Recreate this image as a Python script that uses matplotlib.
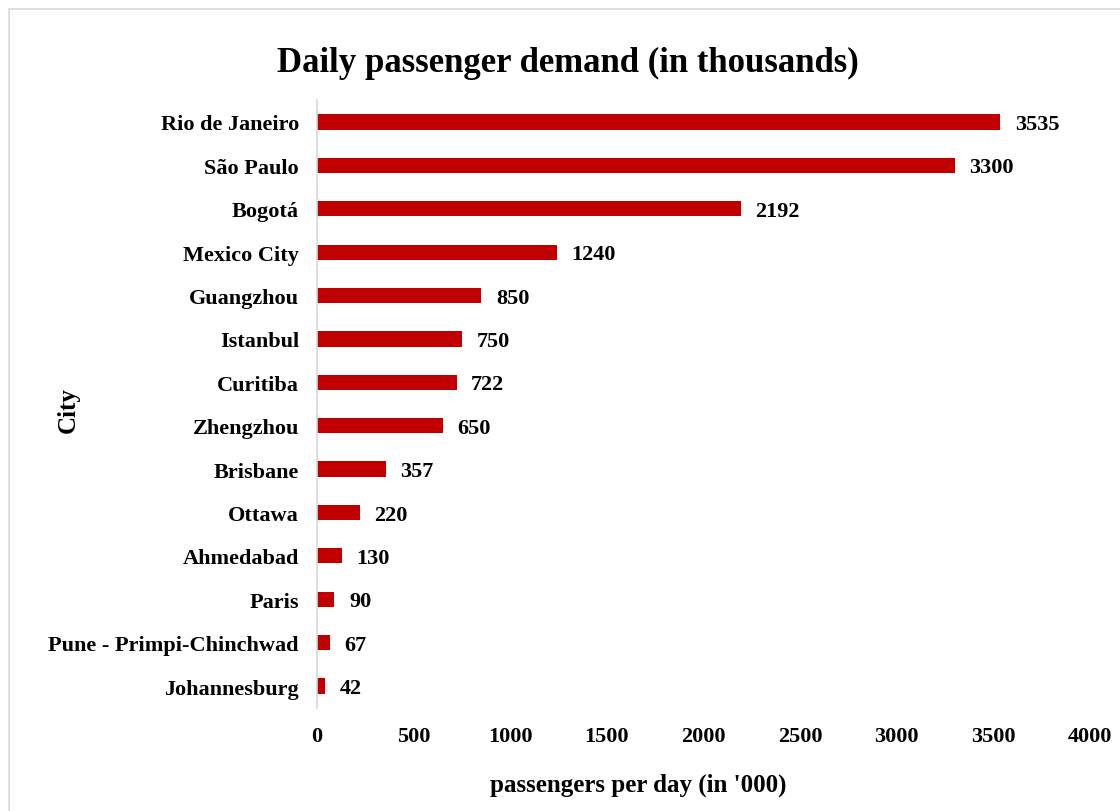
import matplotlib.pyplot as plt
from matplotlib.patches import Rectangle

cities = ['Rio de Janeiro', 'São Paulo', 'Bogotá', 'Mexico City', 'Guangzhou',
          'Istanbul', 'Curitiba', 'Zhengzhou', 'Brisbane', 'Ottawa',
          'Ahmedabad', 'Paris', 'Pune - Primpi-Chinchwad', 'Johannesburg']
demand = [3535, 3300, 2192, 1240, 850, 750, 722, 650, 357, 220, 130, 90, 67, 42]
xticks = [0, 500, 1000, 1500, 2000, 2500, 3000, 3500, 4000]

plt.rcParams['font.family'] = ['Liberation Serif', 'DejaVu Serif']
plt.rcParams['font.weight'] = 'bold'

W, H = 1120, 812
fig = plt.figure(figsize=(W / 100, H / 100), dpi=100)
ax = fig.add_axes([317 / W, 1 - 708.7 / H, 773 / W, 607.4 / H])

ypos = list(range(len(cities)))
ax.barh(ypos, demand, height=0.35, color='#C00000')
ax.set_ylim(len(cities) - 0.5, -0.5)
ax.set_xlim(0, 4000)
ax.set_yticks(ypos)
ax.set_yticklabels(cities, fontsize=16, fontweight='bold')
ax.set_xticks(xticks)
ax.set_xticklabels([str(t) for t in xticks], fontsize=16, fontweight='bold')
ax.tick_params(axis='both', length=0, pad=13)

# value labels just right of each bar
for y, v in zip(ypos, demand):
    ax.annotate(str(v), (v, y), xytext=(10.5, -1.5), textcoords='offset points',
                va='center', ha='left', fontsize=16, fontweight='bold')

for s in ['top', 'right', 'bottom']:
    ax.spines[s].set_visible(False)
ax.spines['left'].set_color('#D9D9D9')
ax.spines['left'].set_linewidth(1.2)

fig.text(568 / W, 1 - 63 / H, 'Daily passenger demand (in thousands)',
         ha='center', va='center', fontsize=25, fontweight='bold')
fig.text(638 / W, 1 - 785 / H, "passengers per day (in '000)",
         ha='center', va='center', fontsize=18, fontweight='bold')
fig.text(68 / W, 1 - 410 / H, 'City', ha='center', va='center',
         rotation=90, fontsize=18, fontweight='bold')

# light chart-area border, cut off at the right and bottom edges
fig.patches.append(Rectangle((9 / W, -0.1), 1.2, 1 - 10 / H + 0.1,
                             transform=fig.transFigure, fill=False,
                             edgecolor='#D9D9D9', linewidth=1.2))

fig.savefig('out.png', dpi=100)
